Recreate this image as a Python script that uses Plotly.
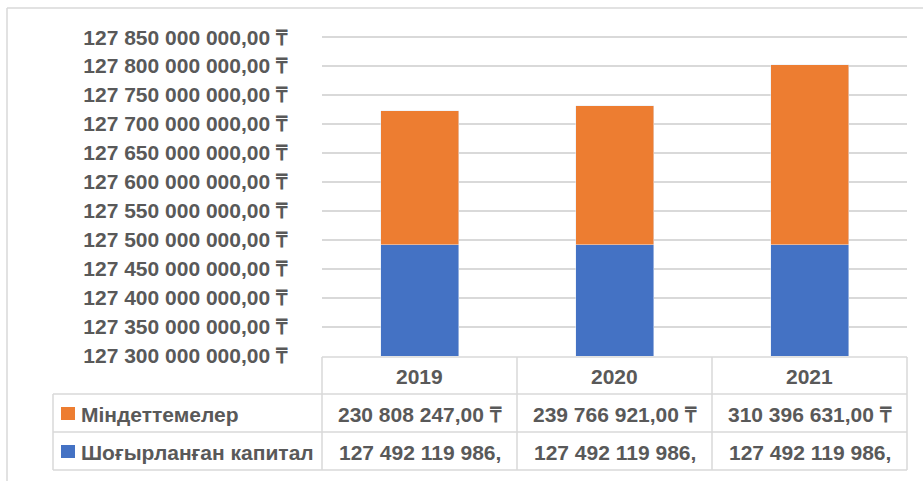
import plotly.graph_objects as go

years = ["2019", "2020", "2021"]
capital_name = "Шоғырланған капитал"
liabilities_name = "Міндеттемелер"
capital = [127492119986, 127492119986, 127492119986]
liabilities = [230808247, 239766921, 310396631]
y_ticks = [127300000000, 127350000000, 127400000000, 127450000000, 127500000000,
           127550000000, 127600000000, 127650000000, 127700000000, 127750000000,
           127800000000, 127850000000]

BLUE = "#4472C4"
ORANGE = "#ED7D31"
TEXT = "#595959"
GRID = "#D9D9D9"
FONT = "Liberation Sans"
FS = 21

W, H = 923, 481
L, R, T, B = 322, 16, 36, 125
PW, PH = W - L - R, H - T - B


def px(x):
    return (x - L) / PW


def py(y):
    return 1 - (y - T) / PH


def money(v):
    return f"{v:,.2f}".replace(",", " ").replace(".", ",") + " ₸"


fig = go.Figure()
fig.add_bar(x=years, y=capital, name=capital_name, marker_color=BLUE)
fig.add_bar(x=years, y=liabilities, name=liabilities_name, marker_color=ORANGE)

shapes = []
annotations = []


def line(x0, y0, x1, y1, color=GRID, width=1.5):
    shapes.append(dict(type="line", xref="paper", yref="paper",
                       x0=px(x0), y0=py(y0), x1=px(x1), y1=py(y1),
                       line=dict(color=color, width=width)))


# outer chart frame (left and top visible)
line(7, 8, 923, 8)
line(7, 8, 7, 481)

# data table grid
col_x = [322, 517, 712, 907]
row_y = [357, 394, 432, 470]
left_x = 53
line(col_x[0], row_y[0], col_x[-1], row_y[0])
for yy in row_y[1:]:
    line(left_x, yy, col_x[-1], yy)
for xx in col_x:
    line(xx, row_y[0], xx, row_y[-1])
line(left_x, row_y[1], left_x, row_y[-1])


def text(x, y, s, xanchor="center"):
    annotations.append(dict(xref="paper", yref="paper", x=px(x), y=py(y), text=s,
                            showarrow=False, xanchor=xanchor, yanchor="middle",
                            font=dict(family=FONT, size=FS, color=TEXT, weight="bold")))


for i, yr in enumerate(years):
    cx = (col_x[i] + col_x[i + 1]) / 2
    text(cx, (row_y[0] + row_y[1]) / 2 + 1, yr)
    text(cx, (row_y[1] + row_y[2]) / 2 + 1, money(liabilities[i]))
    # capital value is clipped by the cell width in the original
    text(cx, (row_y[2] + row_y[3]) / 2 + 1, money(capital[i])[:16])

rows = [(liabilities_name, ORANGE), (capital_name, BLUE)]
for j, (name, color) in enumerate(rows):
    cy = (row_y[j + 1] + row_y[j + 2]) / 2
    shapes.append(dict(type="rect", xref="paper", yref="paper",
                       x0=px(61), x1=px(75), y0=py(cy - 6), y1=py(cy + 7),
                       fillcolor=color, line=dict(width=0)))
    text(79, cy + 1, name, xanchor="left")

fig.update_layout(
    width=W, height=H,
    margin=dict(l=L, r=R, t=T, b=B),
    paper_bgcolor="white", plot_bgcolor="white",
    barmode="stack", bargap=0.6,
    showlegend=False,
    shapes=shapes, annotations=annotations,
    xaxis=dict(showticklabels=False, showgrid=False, zeroline=False, showline=False,
               automargin=False),
    yaxis=dict(range=[y_ticks[0], y_ticks[-1] + 2000000], tickvals=y_ticks,
               ticktext=[money(v) for v in y_ticks],
               showgrid=True, gridcolor=GRID, gridwidth=1.5,
               zeroline=False, showline=False, ticks="",
               ticklabelstandoff=34, automargin=False,
               tickfont=dict(family=FONT, size=FS, color=TEXT, weight="bold")),
)

fig.write_html("out.html", config={"displayModeBar": False},
               post_script="document.body.style.margin='0';document.body.style.overflow='hidden';")
